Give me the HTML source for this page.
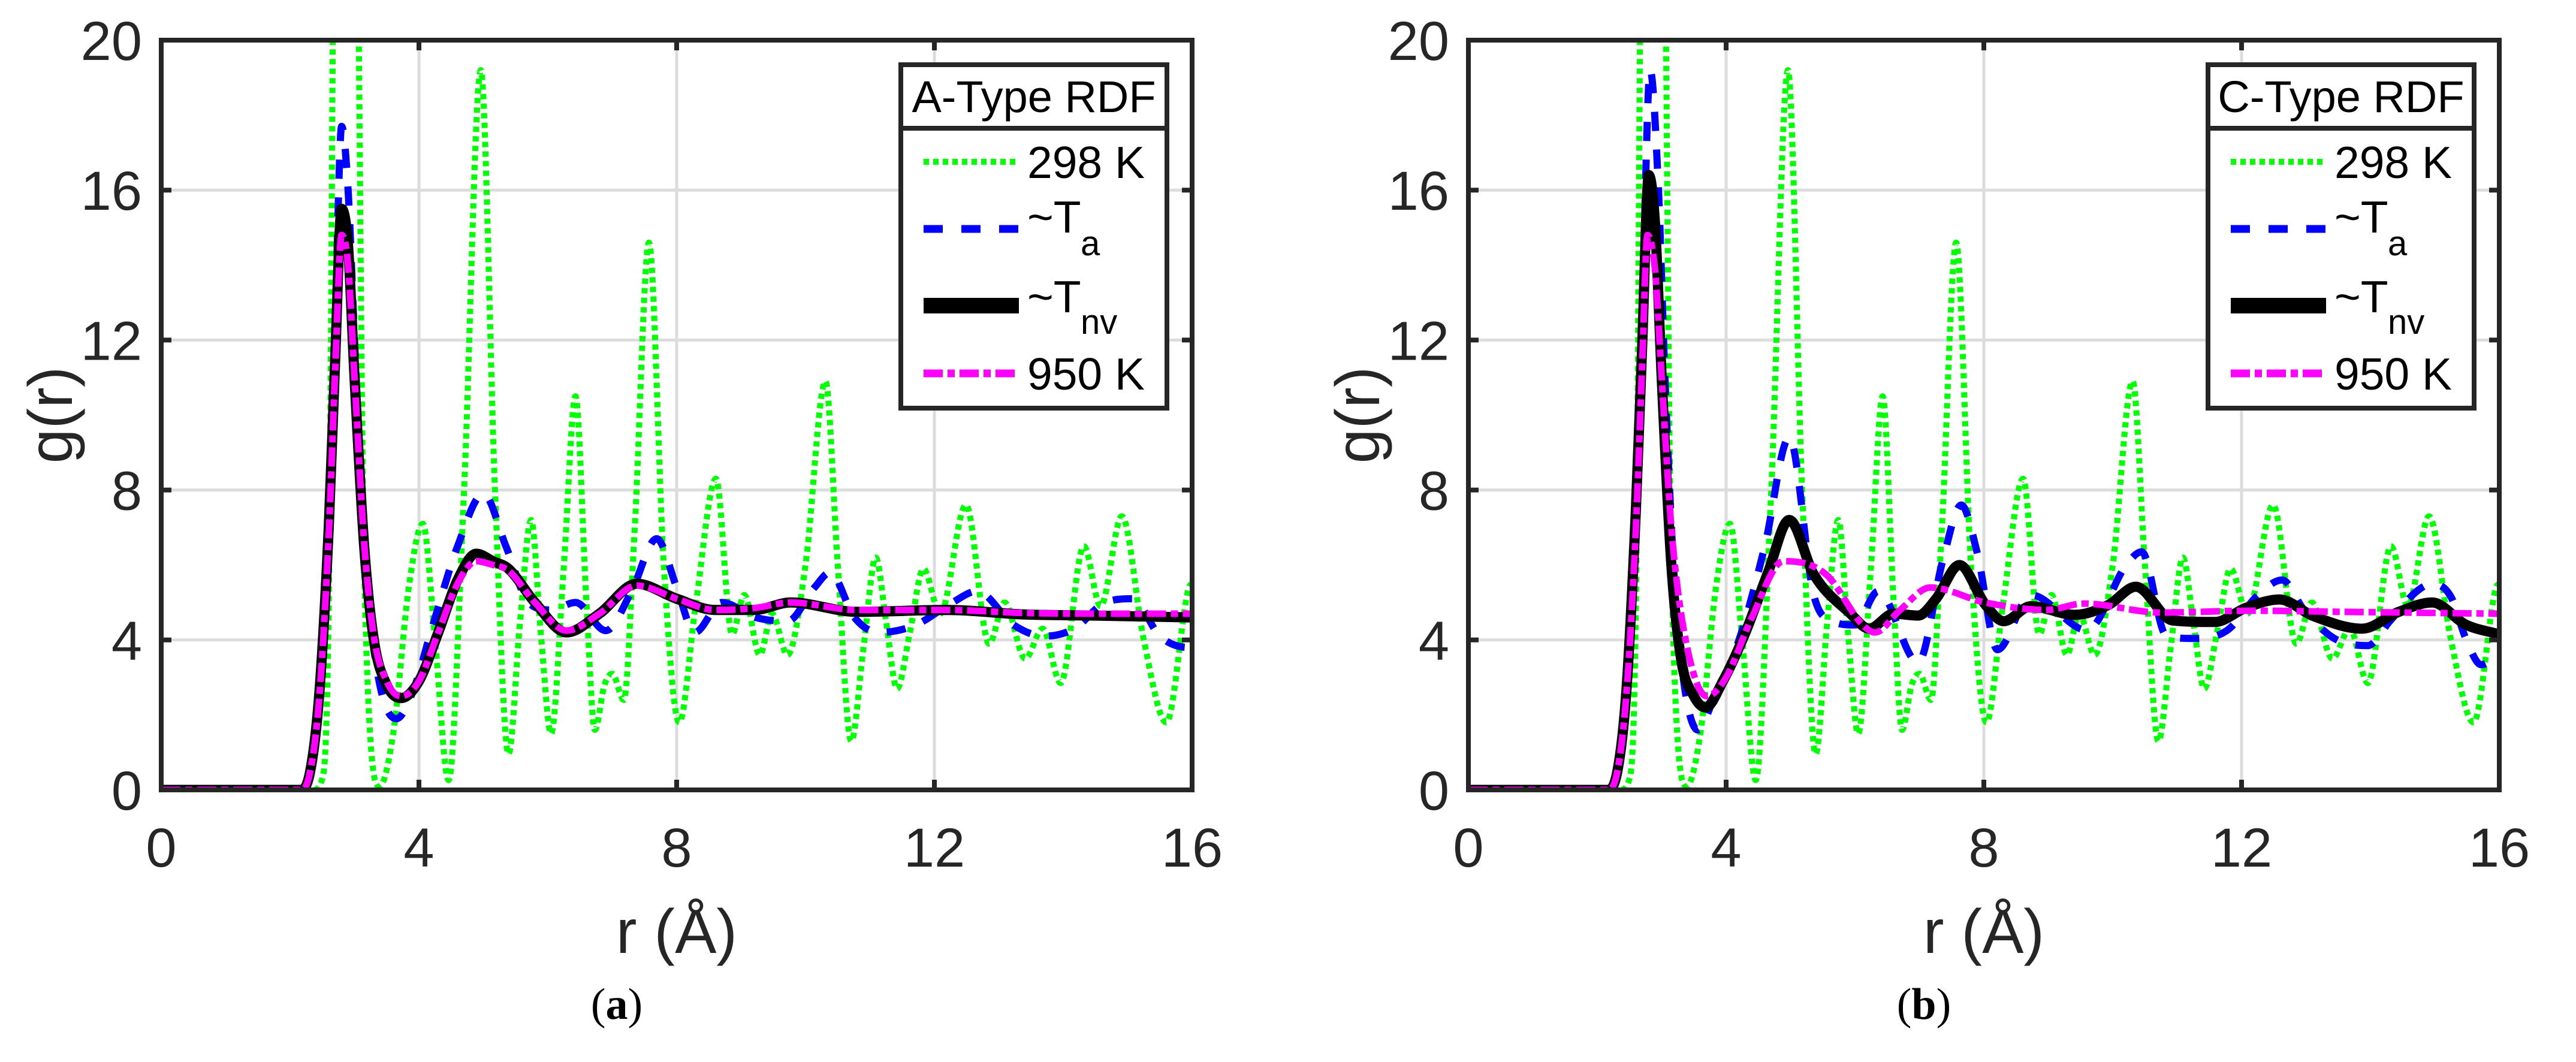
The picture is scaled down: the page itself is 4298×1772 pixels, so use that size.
<!DOCTYPE html>
<html><head><meta charset="utf-8">
<style>
html,body{margin:0;padding:0;background:#fff;}
svg{display:block;}
text{font-family:"Liberation Sans",Arial,sans-serif;}
</style></head>
<body>
<svg id="fig" xmlns="http://www.w3.org/2000/svg" width="4298" height="1772" viewBox="0 0 4298 1772">
<rect x="0" y="0" width="4298" height="1772" fill="#fff"/>
</svg>
<script>
// ---- shared data ----
const xTicks = [0, 4, 8, 12, 16];
const yTicks = [0, 4, 8, 12, 16, 20];
const legendLabels = ["298 K", "~T", "~T", "950 K"];
const legendSubs = ["", "a", "nv", ""];

// 298 K (same in both panels)
const greenR = [0,2.35,2.5,2.6,2.72,2.86,2.99,3.15,3.39,3.6, 3.85,4.06,4.25,4.46,4.7,4.96,5.18,5.39,5.57,5.74, 5.9,6.05,6.25,6.43,6.6,6.73,6.88,7.0,7.18,7.35, 7.57,7.8,8.04,8.3,8.61,8.86,9.05,9.29,9.48,9.72, 10.0,10.31,10.5,10.71,10.9,11.09,11.25,11.42,11.62,11.83, 12.09,12.49,12.85,13.09,13.41,13.68,13.96,14.32,14.58,14.91, 15.25,15.6,15.95,16];
const greenG = [0,0,0.3,5,30,22,30,6,0.1,1.5, 5.5,7.1,4,0.26,8,19.2,8,0.96,4.5,7.2, 4,1.5,6,10.5,5,1.6,2.8,3.1,2.4,7, 14.6,6,1.8,5,8.3,4.15,5.2,3.6,4.7,3.6, 6,10.9,6,1.3,3.8,6.2,4.5,2.7,4.2,5.9, 4.7,7.6,3.9,5.0,3.5,4.3,2.85,6.5,4.9,7.3, 4,1.8,5.4,5.5];

// Panel A
const aTaR = [0,2.15,2.3,2.45,2.6,2.7,2.8,2.9,3.0,3.15,3.35,3.65,3.9,4.2,4.6,5.0,5.35,5.7,6.05,6.43,6.9,7.3,7.69,8.0,8.28,8.7,9.23,9.72,10.14,10.38,10.76,11.14,11.71,12.28,12.66,13.23,13.7,14.17,14.65,15.08,15.5,15.95,16];
const aTaG = [0,0,0.4,2.6,7.5,12.5,17.7,16,12,6.5,3.2,1.9,2.6,4.3,6.5,7.9,6.5,5.0,4.8,5.0,4.25,5.3,6.7,5.4,4.2,5.0,4.6,4.5,5.4,5.8,4.6,4.2,4.4,5.0,5.3,4.4,4.1,4.3,5.0,5.1,4.1,3.8,3.8];
const aTnvR = [0,2.15,2.3,2.45,2.6,2.7,2.8,2.9,3.0,3.15,3.3,3.5,3.72,4.0,4.3,4.6,4.89,5.15,5.39,5.8,6.29,6.8,7.38,8.0,8.6,9.2,9.77,10.8,12.2,13.4,14.5,16];
const aTnvG = [0,0,0.4,2.5,7,11.5,15.5,14.5,11,6.5,4,2.8,2.45,2.9,4.2,5.6,6.3,6.1,5.9,5.0,4.2,4.7,5.5,5.1,4.8,4.8,5.0,4.75,4.8,4.68,4.65,4.6];
const a950R = [0,2.15,2.3,2.45,2.6,2.7,2.8,2.9,3.0,3.15,3.3,3.5,3.72,4.0,4.3,4.6,4.89,5.15,5.39,5.8,6.29,6.8,7.38,8.0,8.6,9.2,9.77,10.8,12.2,13.4,14.5,16];
const a950G = [0,0,0.4,2.4,6.8,11.2,14.8,14.0,11,6.6,4.1,2.9,2.5,2.9,4.2,5.5,6.1,6.0,5.85,5.0,4.25,4.7,5.45,5.1,4.8,4.85,5.0,4.8,4.8,4.72,4.7,4.7];

// Panel C
const cTaR = [0,2.15,2.3,2.45,2.6,2.7,2.82,2.95,3.05,3.2,3.35,3.56,3.8,4.2,4.6,4.98,5.36,5.65,6.0,6.36,6.98,7.36,7.65,7.9,8.21,8.73,9.6,10.21,10.45,10.83,11.26,11.78,12.25,12.63,12.97,13.44,13.96,14.3,14.72,14.96,15.25,15.48,15.72,16];
const cTaG = [0,0,0.4,2.7,8,13,19.2,16,11,5.5,2.8,1.6,2.4,4.0,6.5,9.4,5.2,4.5,4.4,5.3,3.4,6.1,7.6,6.3,3.74,5.2,4.26,6.0,6.35,4.12,4.04,4.26,5.19,5.6,4.8,4.04,3.85,4.5,5.3,5.5,5.15,4.04,3.34,3.6];
const cTnvR = [0,2.15,2.3,2.45,2.6,2.7,2.8,2.9,3.0,3.15,3.3,3.5,3.68,3.95,4.3,4.65,4.98,5.36,5.93,6.22,6.6,6.98,7.26,7.62,8.02,8.31,8.73,9.41,9.93,10.36,10.93,11.59,12.06,12.59,13.11,13.87,14.44,14.96,15.48,16];
const cTnvG = [0,0,0.4,2.6,7.5,12,16.4,15,11,6,3.5,2.5,2.2,2.9,4.2,5.8,7.2,5.75,4.7,4.3,4.7,4.65,5.1,6.0,4.95,4.5,4.9,4.67,4.93,5.42,4.52,4.48,4.85,5.08,4.64,4.30,4.75,5.0,4.41,4.15];
const c950R = [0,2.15,2.3,2.45,2.6,2.7,2.78,2.9,3.0,3.15,3.35,3.7,4.0,4.4,4.89,5.55,6.12,6.31,6.7,7.17,8.02,8.97,9.55,10.74,12.16,13.58,16];
const c950G = [0,0,0.4,2.5,7,11.5,14.8,13.8,11,7,4.2,2.5,3.0,4.6,6.1,5.75,4.4,4.2,4.8,5.4,5.0,4.8,4.97,4.73,4.78,4.75,4.7];

const NS = "http://www.w3.org/2000/svg";
const svg = document.getElementById("fig");
function mk(tag, attrs, parent) {
  const e = document.createElementNS(NS, tag);
  for (const k in attrs) e.setAttribute(k, attrs[k]);
  (parent || svg).appendChild(e);
  return e;
}

const TOP = 67, BOT = 1318;
function monoPath(xs, ys) {
  const n = xs.length, d = [], m = new Array(n).fill(0);
  for (let i = 0; i < n - 1; i++) d.push((ys[i+1]-ys[i])/(xs[i+1]-xs[i]));
  m[0] = d[0]; m[n-1] = d[n-2];
  for (let i = 1; i < n - 1; i++) m[i] = (d[i-1]*d[i] <= 0) ? 0 : (d[i-1]+d[i])/2;
  for (let i = 0; i < n - 1; i++) {
    if (d[i] === 0) { m[i] = 0; m[i+1] = 0; continue; }
    const a = m[i]/d[i], b = m[i+1]/d[i], s = a*a + b*b;
    if (s > 9) { const t = 3/Math.sqrt(s); m[i] = t*a*d[i]; m[i+1] = t*b*d[i]; }
  }
  let p = "M" + xs[0].toFixed(1) + "," + ys[0].toFixed(1);
  for (let i = 0; i < n - 1; i++) {
    const h = (xs[i+1]-xs[i])/3;
    p += " C" + (xs[i]+h).toFixed(1) + "," + (ys[i]+m[i]*h).toFixed(1) + " " +
      (xs[i+1]-h).toFixed(1) + "," + (ys[i+1]-m[i+1]*h).toFixed(1) + " " +
      xs[i+1].toFixed(1) + "," + ys[i+1].toFixed(1);
  }
  return p;
}

const STYLES = {
  green: {stroke:"#00ff00", w:10, dash:"9 7"},
  blue: {stroke:"#0000ff", w:12, dash:"32 31"},
  black: {stroke:"#000000", w:17, dash:""},
  magenta: {stroke:"#ff00ff", w:11, dash:"32 8 12 8"}
};

function panel(id, x0, title, series, legendLeft, captionLetter) {
  const x1 = x0 + 1720;
  const sx = r => x0 + (r - 0) / 16 * (x1 - x0);
  const sy = g => BOT - g / 20 * (BOT - TOP);
  const g = mk("g", {});
  
  
  const clip = mk("clipPath", {id: id + "-clip"}, g);
  mk("rect", {x: x0, y: TOP, width: x1 - x0, height: BOT - TOP}, clip);
  // grid
  const grid = mk("g", {}, g);
  
  
  xTicks.forEach(t => { if (t > 0 && t < 16) mk("line", {x1: sx(t), x2: sx(t), y1: TOP, y2: BOT, stroke: "#dcdcdc", "stroke-width": 5}, grid); });
  yTicks.forEach(t => { if (t > 0 && t < 20) mk("line", {x1: x0, x2: x1, y1: sy(t), y2: sy(t), stroke: "#dcdcdc", "stroke-width": 5}, grid); });
  // series
  const sg = mk("g", {"clip-path": "url(#" + id + "-clip)"}, g);
  series.forEach(s => {
    const st = STYLES[s.style];
    const p = mk("path", {d: monoPath(s.r.map(sx), s.g.map(sy)), fill: "none", stroke: st.stroke,
      "stroke-width": st.w, "stroke-dasharray": st.dash, "stroke-linejoin": "round"}, sg);
    
    
  });
  // axes box
  const ax = mk("rect", {x: x0, y: TOP, width: x1 - x0, height: BOT - TOP, fill: "none", stroke: "#262626", "stroke-width": 8}, g);
  
  
  xTicks.forEach(t => {
    mk("line", {x1: sx(t), x2: sx(t), y1: BOT, y2: BOT - 17, stroke: "#262626", "stroke-width": 8}, g);
    mk("line", {x1: sx(t), x2: sx(t), y1: TOP, y2: TOP + 17, stroke: "#262626", "stroke-width": 8}, g);
    const tl = mk("text", {x: sx(t), y: 1446, "text-anchor": "middle", "font-size": 92, fill: "#262626"}, g);
    tl.textContent = t;
    
    
  });
  yTicks.forEach(t => {
    mk("line", {x1: x0, x2: x0 + 17, y1: sy(t), y2: sy(t), stroke: "#262626", "stroke-width": 8}, g);
    mk("line", {x1: x1, x2: x1 - 17, y1: sy(t), y2: sy(t), stroke: "#262626", "stroke-width": 8}, g);
    const tl = mk("text", {x: x0 - 32, y: sy(t) + 33, "text-anchor": "end", "font-size": 92, fill: "#262626"}, g);
    tl.textContent = t;
    
    
  });
  // axis titles
  const xl = mk("text", {x: (x0 + x1) / 2, y: 1590, "text-anchor": "middle", "font-size": 104, fill: "#262626"}, g);
  xl.textContent = "r (Å)";
  
  
  const yx = x0 - 185, yy = (TOP + BOT) / 2;
  const yl = mk("text", {x: yx, y: yy, "text-anchor": "middle", "font-size": 104, fill: "#262626",
    transform: "rotate(-90 " + yx + " " + yy + ")", dy: 36}, g);
  yl.textContent = "g(r)";
  
  
  // caption
  const cap = mk("text", {x: (x0 + x1) / 2 - 100, y: 1700, "text-anchor": "middle", "font-size": 74, fill: "#000",
    style: "font-family:'Liberation Serif',serif"}, g);
  cap.innerHTML = '(<tspan font-weight="bold">' + captionLetter + '</tspan>)';
  
  
  // legend
  const lg = mk("g", {}, g);
  
  
  const L = legendLeft, W = 444;
  mk("rect", {x: L, y: 108, width: W, height: 573, fill: "#fff", stroke: "#262626", "stroke-width": 8}, lg);
  mk("line", {x1: L, x2: L + W, y1: 214, y2: 214, stroke: "#262626", "stroke-width": 8}, lg);
  const lt = mk("text", {x: L + W / 2, y: 187, "text-anchor": "middle", "font-size": 74, fill: "#000"}, lg);
  lt.textContent = title;
  
  
  const rowY = [270, 382, 510, 623];
  const baseY = [297, 388, 521, 650];
  const subY = [0, 426, 557, 0];
  const styleKeys = ["green", "blue", "black", "magenta"];
  styleKeys.forEach((k, i) => {
    const st = STYLES[k];
    const e = mk("g", {}, lg);
    
    
    mk("line", {x1: L + 38, x2: L + 197, y1: rowY[i], y2: rowY[i], stroke: st.stroke, "stroke-width": k === "black" ? 26 : (k === "green" ? 10 : 13), "stroke-dasharray": st.dash}, e);
    const tx = mk("text", {x: L + 211, y: baseY[i], "font-size": 75, fill: "#000"}, e);
    tx.textContent = legendLabels[i];
    if (legendSubs[i]) {
      const sub = mk("text", {x: L + 300, y: subY[i], "font-size": 58, fill: "#000"}, e);
      sub.textContent = legendSubs[i];
    }
  });
}

panel("panel-a", 269, "A-Type RDF", [
  {name: "298k", style: "green", r: greenR, g: greenG},
  {name: "ta", style: "blue", r: aTaR, g: aTaG},
  {name: "tnv", style: "black", r: aTnvR, g: aTnvG},
  {name: "950k", style: "magenta", r: a950R, g: a950G}
], 1503, "a");
panel("panel-c", 2450, "C-Type RDF", [
  {name: "298k", style: "green", r: greenR, g: greenG},
  {name: "ta", style: "blue", r: cTaR, g: cTaG},
  {name: "tnv", style: "black", r: cTnvR, g: cTnvG},
  {name: "950k", style: "magenta", r: c950R, g: c950G}
], 3684, "b");
</script>
</body></html>
